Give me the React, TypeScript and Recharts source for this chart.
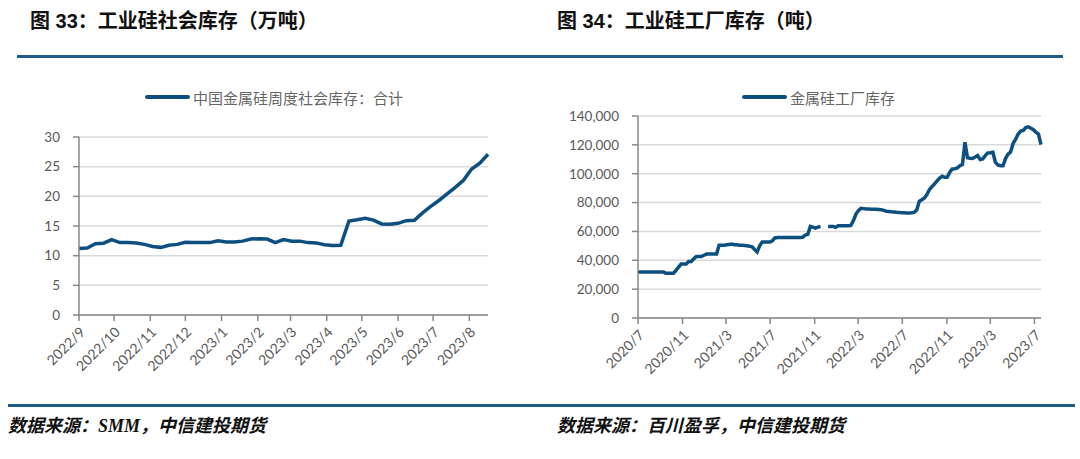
import React from 'react';
import { LineChart, Line, XAxis, YAxis, CartesianGrid } from 'recharts';

const DAY = 86400000;
const BLUE = '#0d5080';
const RULE = '#1d5b8b';
const GREY_TEXT = '#595959';
const AXIS = '#898989';
const TICK_FONT = 'Lato, "Noto Sans", sans-serif';
const CJK = '"Noto Sans CJK SC", sans-serif';

// 图33: weekly social inventory (万吨), first week 2022/9/1
const socialStart = Date.UTC(2022, 8, 1);
const socialStock = [
  11.2, 11.3, 12.0, 12.1, 12.7, 12.2, 12.2, 12.15, 11.9, 11.55,
  11.4, 11.75, 11.9, 12.25, 12.2, 12.2, 12.2, 12.5, 12.3, 12.3,
  12.45, 12.8, 12.85, 12.8, 12.2, 12.7, 12.45, 12.45, 12.2, 12.15,
  11.85, 11.7, 11.75, 15.85, 16.05, 16.3, 16.0, 15.35, 15.3, 15.45,
  15.9, 15.95, 17.2, 18.3, 19.3, 20.4, 21.5, 22.7, 24.6, 25.6,
  27.1,
];
const socialTicks = [
  '2022/9', '2022/10', '2022/11', '2022/12', '2023/1', '2023/2',
  '2023/3', '2023/4', '2023/5', '2023/6', '2023/7', '2023/8',
];
const socialYTicks = [0, 5, 10, 15, 20, 25, 30];

// 图34: weekly factory inventory (吨), first week 2020/7/1
const factoryStart = Date.UTC(2020, 6, 1);
const factoryStock: (number | null)[] = [
  31800, 31800, 31800, 31800, 31800, 31800, 31800, 31800, 31800, 31800,
  31800, 31100, 31100, 31100, 31100, 33000, 35300, 37400, 37400, 37400,
  39200, 39200, 41000, 42600, 42600, 42600, 43500, 44300, 44300, 44300,
  44300, 44300, 50500, 50500, 50500, 50800, 51000, 51200, 50800, 50800,
  50500, 50500, 50300, 50000, 49800, 49300, 47500, 45800, 50000, 52600,
  52600, 52600, 52600, 53500, 55500, 55800, 55800, 55800, 55800, 55800,
  55800, 55800, 55800, 55800, 55800, 56000, 57500, 58000, 63500, 63000,
  62300, 63000, 63500, null, null, 63500, 63500, 63500, 62800, 64000,
  64000, 64000, 64000, 64000, 64200, 67500, 72000, 74500, 76000, 75800,
  75500, 75500, 75400, 75400, 75300, 75200, 75000, 74600, 74000, 73800,
  73600, 73500, 73300, 73200, 73000, 72900, 72800, 72800, 72900, 73200,
  75000, 81000, 82000, 83200, 85500, 89000, 91000, 93000, 95000, 97000,
  98200, 97500, 97500, 101000, 103300, 103500, 104000, 105500, 106300, 121800,
  111000, 110700, 110500, 111500, 112600, 109800, 110300, 112500, 114400, 114600,
  114900, 108000, 106000, 105500, 105500, 110500, 113500, 115000, 121000, 124000,
  127500, 129500, 130000, 132000, 132500, 131500, 130500, 128800, 127500, 120200,
];
const factoryTicks = [
  '2020/7', '2020/11', '2021/3', '2021/7', '2021/11',
  '2022/3', '2022/7', '2022/11', '2023/3', '2023/7',
];
const factoryYTicks = [0, 20000, 40000, 60000, 80000, 100000, 120000, 140000];

const toTime = (label: string) => {
  const [y, m] = label.split('/').map(Number);
  return Date.UTC(y, m - 1, 1);
};

const weekly = (start: number, values: (number | null)[]) =>
  values.map((v, i) => ({ t: start + i * 7 * DAY, v }));

const socialData = weekly(socialStart, socialStock);
const factoryData = weekly(factoryStart, factoryStock);

const fmtMonth = (t: number) => {
  const d = new Date(t);
  return `${d.getUTCFullYear()}/${d.getUTCMonth() + 1}`;
};

const DateTick = (props: any) => {
  const { x, y, payload } = props;
  return (
    <g transform={`translate(${x + 7},${y + 10})`}>
      <text
        x={0}
        y={0}
        textAnchor="end"
        transform="rotate(-45)"
        fill={GREY_TEXT}
        fontSize={14}
        fontFamily={TICK_FONT}
      >
        {fmtMonth(payload.value)}
      </text>
    </g>
  );
};

const yTickStyle = { fill: GREY_TEXT, fontSize: 13.5, fontFamily: TICK_FONT };

function LegendItem({ left, label }: { left: number; label: string }) {
  return (
    <div style={{ position: 'absolute', left, top: 86, height: 22, display: 'flex', alignItems: 'center' }}>
      <div style={{ width: 45, height: 4, background: BLUE, borderRadius: 2, marginRight: 3 }} />
      <span style={{ fontFamily: CJK, fontSize: 15, color: '#666666', whiteSpace: 'nowrap' }}>{label}</span>
    </div>
  );
}

const titleStyle: React.CSSProperties = {
  position: 'absolute',
  top: 5,
  fontFamily: '"Liberation Sans", "Noto Sans CJK SC", sans-serif',
  fontWeight: 700,
  fontSize: 20,
  color: '#111111',
  whiteSpace: 'nowrap',
};

const sourceStyle: React.CSSProperties = {
  position: 'absolute',
  top: 411,
  fontFamily: '"Liberation Serif", "Noto Sans CJK SC", serif',
  fontWeight: 700,
  fontStyle: 'italic',
  fontSize: 18,
  color: '#111111',
  whiteSpace: 'nowrap',
};

export default function App() {
  return (
    <div style={{ position: 'absolute', left: 0, top: 0, width: 1080, height: 459, background: '#fff', overflow: 'hidden' }}>
      <div style={{ ...titleStyle, left: 30 }}>图 33：工业硅社会库存（万吨）</div>
      <div style={{ ...titleStyle, left: 557 }}>图 34：工业硅工厂库存（吨）</div>
      <div style={{ position: 'absolute', left: 17, top: 55, width: 1046, height: 3, background: RULE }} />

      <LegendItem left={145} label="中国金属硅周度社会库存：合计" />
      <LegendItem left={742} label="金属硅工厂库存" />

      <div style={{ position: 'absolute', left: 0, top: 70 }}>
        <LineChart
          width={520}
          height={310}
          data={socialData}
          margin={{ top: 67, right: 32, left: 0, bottom: 0 }}
        >
          <CartesianGrid vertical={false} stroke="#d9d9d9" strokeWidth={1.5} />
          <XAxis
            dataKey="t"
            type="number"
            scale="time"
            domain={['dataMin', 'dataMax']}
            ticks={socialTicks.map(toTime)}
            tick={<DateTick />}
            interval={0}
            height={65}
            stroke={AXIS}
            strokeWidth={1.5}
            tickSize={6}
            tickMargin={2}
          />
          <YAxis
            domain={[0, 30]}
            ticks={socialYTicks}
            width={79}
            stroke={AXIS}
            strokeWidth={1.5}
            tick={yTickStyle}
            tickSize={6}
            tickMargin={13}
            interval={0}
          />
          <Line
            type="linear"
            dataKey="v"
            stroke={BLUE}
            strokeWidth={3.5}
            dot={false}
            isAnimationActive={false}
          />
        </LineChart>
      </div>

      <div style={{ position: 'absolute', left: 540, top: 60 }}>
        <LineChart
          width={520}
          height={320}
          data={factoryData}
          margin={{ top: 56, right: 19, left: 0, bottom: 0 }}
        >
          <CartesianGrid vertical={false} stroke="#d9d9d9" strokeWidth={1.5} />
          <XAxis
            dataKey="t"
            type="number"
            scale="time"
            domain={['dataMin', 'dataMax']}
            ticks={factoryTicks.map(toTime)}
            tick={<DateTick />}
            interval={0}
            height={62}
            stroke={AXIS}
            strokeWidth={1.5}
            tickSize={6}
            tickMargin={2}
          />
          <YAxis
            domain={[0, 140000]}
            ticks={factoryYTicks}
            width={98}
            stroke={AXIS}
            strokeWidth={1.5}
            tick={yTickStyle}
            tickSize={6}
            tickMargin={13}
            interval={0}
            tickFormatter={(v: number) => v.toLocaleString('en-US')}
          />
          <Line
            type="linear"
            dataKey="v"
            stroke={BLUE}
            strokeWidth={3.5}
            dot={false}
            connectNulls={false}
            isAnimationActive={false}
          />
        </LineChart>
      </div>

      <div style={{ position: 'absolute', left: 8, top: 404, width: 1067, height: 3, background: RULE }} />
      <div style={{ ...sourceStyle, left: 8 }}>数据来源：SMM，中信建投期货</div>
      <div style={{ ...sourceStyle, left: 557 }}>数据来源：百川盈孚，中信建投期货</div>
    </div>
  );
}
